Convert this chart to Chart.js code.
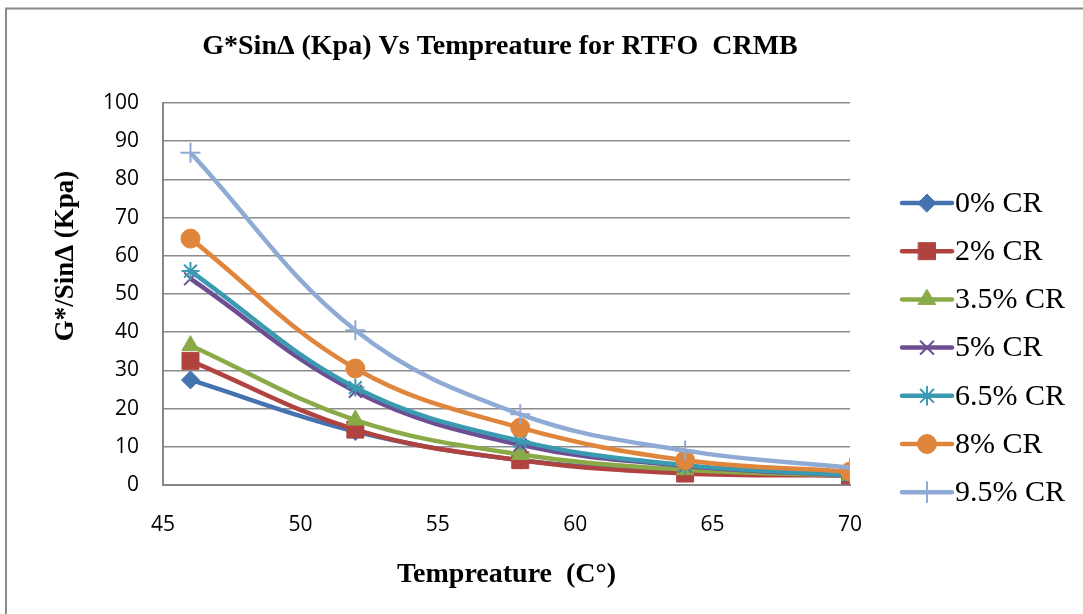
<!DOCTYPE html>
<html>
<head>
<meta charset="utf-8">
<script src="https://cdn.jsdelivr.net/npm/chart.js@4.4.1/dist/chart.umd.min.js"></script>
<style>
  html, body { margin: 0; padding: 0; background: #fff; }
  #wrap { width: 1083px; height: 614px; position: relative; }
</style>
</head>
<body>
<div id="wrap"><canvas id="chart"></canvas></div>
<script>
// temperatures (C) and G*/sin(delta) values per crumb rubber content
const temps = [46, 52, 58, 64, 70];
const seriesNames = ['0% CR', '2% CR', '3.5% CR', '5% CR', '6.5% CR', '8% CR', '9.5% CR'];
const cr0  = [27.5, 14.0, 6.5, 3.5, 2.5];
const cr2  = [32.5, 14.5, 6.5, 3.0, 2.5];
const cr35 = [36.5, 17.0, 8.0, 4.0, 2.5];
const cr5  = [54.0, 24.5, 10.5, 5.0, 2.5];
const cr65 = [56.0, 25.5, 11.5, 5.2, 2.6];
const cr8  = [64.5, 30.5, 15.0, 6.5, 3.5];
const cr95 = [87.0, 40.5, 18.5, 9.0, 4.5];
const yTicks = [0, 10, 20, 30, 40, 50, 60, 70, 80, 90, 100];

const allValues = [cr0, cr2, cr35, cr5, cr65, cr8, cr95];
const colors = ['#4573B1', '#B0423F', '#8AAA48', '#6E4E92', '#3A9AB2', '#E0853C', '#8FAAD4'];
const markers = ['rectRot', 'rect', 'triangle', 'crossRot', 'star', 'circle', 'cross'];
const radii = [9, 12, 10, 9, 9, 9.5, 10];

const serif = '"Liberation Serif", "Times New Roman", serif';
const sans = '"Open Sans", "Liberation Sans", sans-serif';

const datasets = allValues.map((vals, i) => ({
  label: seriesNames[i],
  data: vals.map((v, j) => ({x: temps[j], y: v})),
  borderColor: colors[i],
  backgroundColor: colors[i],
  borderWidth: 4.5,
  tension: 0.38,
  pointStyle: markers[i],
  pointRadius: radii[i],
  pointBorderWidth: ['crossRot', 'star', 'cross'].includes(markers[i]) ? 2 : 1,
  order: 6 - i
}));

// title, y title, frame and right-hand legend (line + marker), drawn like the original
const extras = {
  id: 'extras',
  afterDraw(chart) {
    const ctx = chart.ctx;
    ctx.save();
    ctx.strokeStyle = '#8a8a8a';
    ctx.lineWidth = 2;
    ctx.beginPath();
    ctx.moveTo(6, 614);
    ctx.lineTo(6, 8.5);
    ctx.lineTo(1083, 8.5);
    ctx.stroke();

    ctx.fillStyle = '#000';
    ctx.font = 'bold 28px ' + serif;
    ctx.textAlign = 'center';
    ctx.textBaseline = 'middle';
    ctx.fillText('G*Sin\u0394 (Kpa) Vs Tempreature for RTFO  CRMB', 500, 47);

    ctx.font = 'bold 27px ' + serif;
    ctx.translate(66, 256);
    ctx.rotate(-Math.PI / 2);
    ctx.fillText('G*/Sin\u0394 (Kpa)', 0, 0);
    ctx.restore();

    const x0 = 902, x1 = 952, top = 203, gap = 48.2;
    chart.data.datasets.forEach((ds, i) => {
      const y = top + i * gap;
      ctx.save();
      ctx.strokeStyle = ds.borderColor;
      ctx.lineWidth = 4.5;
      ctx.lineCap = 'round';
      ctx.beginPath();
      ctx.moveTo(x0, y);
      ctx.lineTo(x1, y);
      ctx.stroke();
      ctx.fillStyle = ds.backgroundColor;
      ctx.strokeStyle = ds.borderColor;
      ctx.lineWidth = ds.pointBorderWidth;
      Chart.helpers.drawPoint(ctx, {pointStyle: ds.pointStyle, radius: ds.pointRadius, rotation: 0, borderWidth: ds.pointBorderWidth}, (x0 + x1) / 2, y);
      ctx.restore();
      ctx.save();
      ctx.fillStyle = '#000';
      ctx.font = '30px ' + serif;
      ctx.textBaseline = 'middle';
      ctx.fillText(ds.label, x1 + 3, y + 1);
      ctx.restore();
    });
  }
};

new Chart(document.getElementById('chart'), {
  type: 'line',
  data: { datasets: datasets },
  plugins: [extras],
  options: {
    responsive: true,
    maintainAspectRatio: false,
    animation: false,
    layout: { padding: { left: 10, right: 233, top: 103, bottom: 0 } },
    plugins: {
      legend: { display: false },
      tooltip: { enabled: false },
      title: { display: false }
    },
    scales: {
      x: {
        type: 'linear',
        min: 45,
        max: 70,
        afterFit(scale) { scale.height = 129; },
        ticks: {
          stepSize: 5,
          color: '#000',
          padding: 27,
          font: { family: sans, size: 21 }
        },
        grid: { display: false, drawTicks: false },
        border: { display: true, color: '#868686', width: 2 },
        title: {
          display: true,
          text: 'Tempreature  (C\u00b0)',
          color: '#000',
          font: { family: serif, size: 28, weight: 'bold' },
          padding: { top: 0, bottom: 22 }
        }
      },
      y: {
        min: 0,
        max: 100,
        afterFit(scale) { scale.width = 153; },
        afterBuildTicks(scale) { scale.ticks = yTicks.map(v => ({value: v})); },
        ticks: {
          color: '#000',
          padding: 24,
          font: { family: sans, size: 21 }
        },
        grid: { color: '#8c8c8c', lineWidth: 1.5, drawTicks: false },
        border: { display: true, color: '#868686', width: 2 },
        title: { display: false }
      }
    }
  }
});
</script>
</body>
</html>
